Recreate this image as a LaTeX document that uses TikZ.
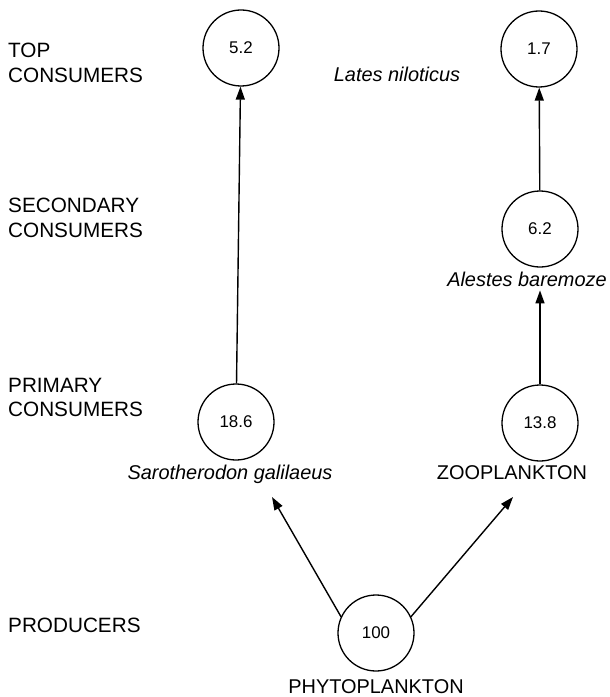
\documentclass[tikz,border=0pt]{standalone}
\usepackage{fontspec}
\setmainfont{Liberation Sans}
\usetikzlibrary{positioning}
\usetikzlibrary{arrows.meta}

\tikzstyle{level} = [align=left, anchor=north west, inner sep=0pt, font=\fontsize{20.8}{24.5}\selectfont]
\tikzstyle{pool} = [circle, draw, line width=1.3bp, minimum size=76bp, inner sep=0pt, font=\fontsize{17}{20}\selectfont]
\tikzstyle{species} = [inner sep=0pt, anchor=base, font=\fontsize{20}{24}\selectfont]
\tikzstyle{flow} = [draw, line width=1.4bp, -{Triangle[length=13bp,width=9bp]}]

\begin{document}
\begin{tikzpicture}[x=1bp, y=-1bp]
    \useasboundingbox (0,0) rectangle (610,697);

    % trophic levels
    \node [level] (lvtop) at (8,43) {TOP\\CONSUMERS};
    \node [level] (lvsec) at (8,198) {SECONDARY\\CONSUMERS};
    \node [level] (lvpri) at (8,378) {PRIMARY\\CONSUMERS};
    \node [level] (lvpro) at (8,618) {PRODUCERS};

    % energy pools
    \node [pool] (c52) at (241,48) {5.2};
    \node [pool] (c17) at (539,49) {1.7};
    \node [pool] (c62) at (540,229) {6.2};
    \node [pool] (c186) at (236,422) {18.6};
    \node [pool] (c138) at (540,423) {13.8};
    \node [pool] (c100) at (376,633) {100};

    \node [species, font=\fontsize{20}{24}\selectfont\itshape] (lat) at (397,82) {Lates niloticus};
    \node [species, font=\fontsize{20}{24}\selectfont\itshape] (ale) at (527,286) {Alestes baremoze};
    \node [species, font=\fontsize{20}{24}\selectfont\itshape] (sar) at (230,479) {Sarotherodon galilaeus};
    \node [species] (zoo) at (512,479) {ZOOPLANKTON};
    \node [species] (phy) at (376,693) {PHYTOPLANKTON};

    \coordinate (sartip) at (272,497);
    \coordinate (zootip) at (513,497);

    \draw [flow] (c186) -- (c52);
    \draw [flow] (c62) -- (c17);
    \draw [flow, shorten >=4bp] (c138) -- (c138 |- ale.south);
    \draw [flow] (c100.155) -- (sartip);
    \draw [flow] (c100.25) -- (zootip);
\end{tikzpicture}
\end{document}
